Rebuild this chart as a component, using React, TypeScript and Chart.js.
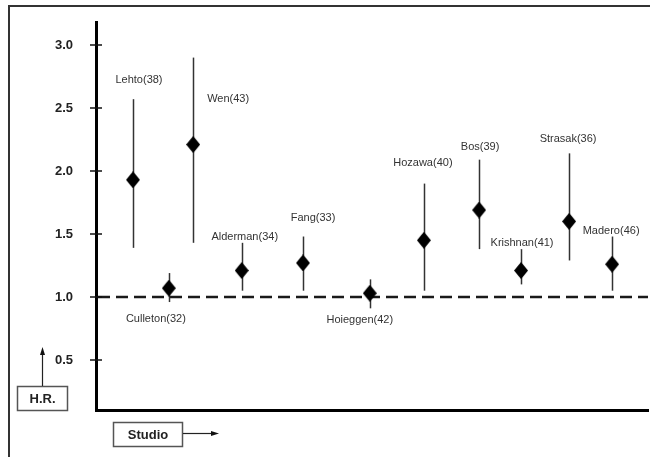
import React, { useEffect, useRef } from 'react';
import { Chart, registerables } from 'chart.js';

Chart.register(...registerables);

// ---------- data ----------
const studies = [
  'Lehto(38)', 'Culleton(32)', 'Wen(43)', 'Alderman(34)', 'Fang(33)', 'Hoieggen(42)',
  'Hozawa(40)', 'Bos(39)', 'Krishnan(41)', 'Strasak(36)', 'Madero(46)',
];
// horizontal position of each study along the (unlabelled) study axis, 0..100
const studyPos = [6.7, 13.2, 17.6, 26.4, 37.5, 49.6, 59.4, 69.4, 77.0, 85.7, 93.5];
const hr = [1.93, 1.07, 2.21, 1.21, 1.27, 1.03, 1.45, 1.69, 1.21, 1.60, 1.26];
const ciLow = [1.39, 0.96, 1.43, 1.05, 1.05, 0.91, 1.05, 1.38, 1.10, 1.29, 1.05];
const ciHigh = [2.57, 1.19, 2.90, 1.43, 1.48, 1.14, 1.90, 2.09, 1.38, 2.14, 1.48];
const yTicks = [0.5, 1.0, 1.5, 2.0, 2.5, 3.0];
const refValue = 1.0;
const yAxisName = 'H.R.';
const xAxisName = 'Studio';

// ---------- styles / layout ----------
const FONT = '"Liberation Sans", Arial, Helvetica, sans-serif';
// label offsets in px relative to the marker centre
const labelOffsets: [number, number][] = [
  [6, -100], [-13, 31], [35, -46], [3, -34], [10, -45], [-10, 27],
  [-1, -77], [1, -63], [1, -28], [-1, -82], [-1, -33],
];

function makeDiamond(w: number, h: number) {
  const c = document.createElement('canvas');
  c.width = w;
  c.height = h;
  const g = c.getContext('2d')!;
  g.fillStyle = '#000';
  g.beginPath();
  g.moveTo(w / 2, 0);
  g.lineTo(w, h / 2);
  g.lineTo(w / 2, h);
  g.lineTo(0, h / 2);
  g.closePath();
  g.fill();
  return c;
}

const underlayPlugin = {
  id: 'underlay',
  beforeDatasetsDraw(chart: any) {
    const { ctx, chartArea, scales } = chart;
    const x = scales.x;
    const y = scales.y;
    ctx.save();
    // reference dashed line
    const yr = y.getPixelForValue(refValue);
    ctx.strokeStyle = '#1a1a1a';
    ctx.lineWidth = 2.6;
    ctx.setLineDash([12, 6]);
    ctx.beginPath();
    ctx.moveTo(chartArea.left + 2, yr);
    ctx.lineTo(chartArea.right, yr);
    ctx.stroke();
    ctx.setLineDash([]);
    // confidence intervals
    ctx.strokeStyle = '#333';
    ctx.lineWidth = 1.5;
    for (let i = 0; i < hr.length; i++) {
      const px = Math.round(x.getPixelForValue(studyPos[i])) + 0.5;
      ctx.beginPath();
      ctx.moveTo(px, y.getPixelForValue(ciHigh[i]));
      ctx.lineTo(px, y.getPixelForValue(ciLow[i]));
      ctx.stroke();
    }
    ctx.restore();
  },
};

const overlayPlugin = {
  id: 'overlay',
  afterDraw(chart: any) {
    const { ctx, chartArea, scales } = chart;
    const x = scales.x;
    const y = scales.y;
    ctx.save();
    // study labels
    ctx.font = `11px ${FONT}`;
    ctx.fillStyle = '#333';
    ctx.textAlign = 'center';
    ctx.textBaseline = 'middle';
    for (let i = 0; i < studies.length; i++) {
      const px = x.getPixelForValue(studyPos[i]);
      const py = y.getPixelForValue(hr[i]);
      ctx.fillText(studies[i], px + labelOffsets[i][0], py + labelOffsets[i][1]);
    }
    // y tick marks crossing the axis
    ctx.strokeStyle = '#111';
    ctx.lineWidth = 1.5;
    for (const t of yTicks) {
      const py = y.getPixelForValue(t);
      ctx.beginPath();
      ctx.moveTo(chartArea.left - 6, py);
      ctx.lineTo(chartArea.left + 6, py);
      ctx.stroke();
    }
    // outer frame (top + left)
    ctx.strokeStyle = '#333';
    ctx.lineWidth = 2;
    ctx.beginPath();
    ctx.moveTo(650, 6);
    ctx.lineTo(9, 6);
    ctx.lineTo(9, 457);
    ctx.stroke();
    // H.R. box with up arrow
    ctx.strokeStyle = '#555';
    ctx.lineWidth = 1.5;
    ctx.strokeRect(17.5, 386.5, 50, 24);
    ctx.font = `bold 13px ${FONT}`;
    ctx.fillStyle = '#222';
    ctx.fillText(yAxisName, 42.5, 399);
    ctx.strokeStyle = '#222';
    ctx.lineWidth = 1.2;
    ctx.beginPath();
    ctx.moveTo(42.5, 386);
    ctx.lineTo(42.5, 354);
    ctx.stroke();
    ctx.fillStyle = '#111';
    ctx.beginPath();
    ctx.moveTo(42.5, 347);
    ctx.lineTo(45, 355);
    ctx.lineTo(40, 355);
    ctx.closePath();
    ctx.fill();
    // Studio box with right arrow
    ctx.strokeStyle = '#555';
    ctx.lineWidth = 1.5;
    ctx.strokeRect(113.5, 422.5, 69, 24);
    ctx.fillStyle = '#222';
    ctx.fillText(xAxisName, 148, 435);
    ctx.strokeStyle = '#222';
    ctx.lineWidth = 1.2;
    ctx.beginPath();
    ctx.moveTo(183, 433.5);
    ctx.lineTo(212, 433.5);
    ctx.stroke();
    ctx.fillStyle = '#111';
    ctx.beginPath();
    ctx.moveTo(219, 433.5);
    ctx.lineTo(211, 431);
    ctx.lineTo(211, 436);
    ctx.closePath();
    ctx.fill();
    ctx.restore();
  },
};

export default function App() {
  const ref = useRef<HTMLCanvasElement>(null);

  useEffect(() => {
    const canvas = ref.current!;
    const diamond = makeDiamond(14, 17);
    const chart = new Chart(canvas, {
      type: 'scatter',
      data: {
        datasets: [
          {
            data: studyPos.map((p, i) => ({ x: p, y: hr[i] })),
            pointStyle: diamond as any,
            pointRadius: 8,
            backgroundColor: '#000',
            borderColor: '#000',
            showLine: false,
          },
        ],
      },
      options: {
        responsive: false,
        animation: false,
        devicePixelRatio: 1,
        layout: { autoPadding: false, padding: { left: 0, top: 22, right: 2, bottom: 0 } },
        plugins: {
          legend: { display: false },
          tooltip: { enabled: false },
          title: { display: false },
        },
        scales: {
          x: {
            type: 'linear',
            min: 0,
            max: 100,
            grid: { display: false, drawTicks: false },
            border: { display: true, width: 3, color: '#000' },
            ticks: { display: false },
            afterFit: (s: any) => {
              s.height = 47;
              s.paddingLeft = 0;
              s.paddingRight = 0;
            },
          },
          y: {
            type: 'linear',
            min: 0.1032,
            max: 3.1825,
            grid: { display: false, drawTicks: false },
            border: { display: true, width: 3, color: '#000' },
            afterBuildTicks: (s: any) => {
              s.ticks = yTicks.map((v) => ({ value: v }));
            },
            ticks: {
              padding: 23,
              color: '#222',
              font: { family: FONT, size: 13, weight: 'bold' },
              callback: (v: any) => Number(v).toFixed(1),
            },
            afterFit: (s: any) => {
              s.width = 96;
              s.paddingTop = 0;
              s.paddingBottom = 0;
            },
          },
        },
      },
      plugins: [underlayPlugin, overlayPlugin],
    });
    return () => chart.destroy();
  }, []);

  return (
    <div style={{ position: 'fixed', left: 0, top: 0, width: 650, height: 457, background: '#fff' }}>
      <canvas ref={ref} width={650} height={457} style={{ display: 'block' }} />
    </div>
  );
}
